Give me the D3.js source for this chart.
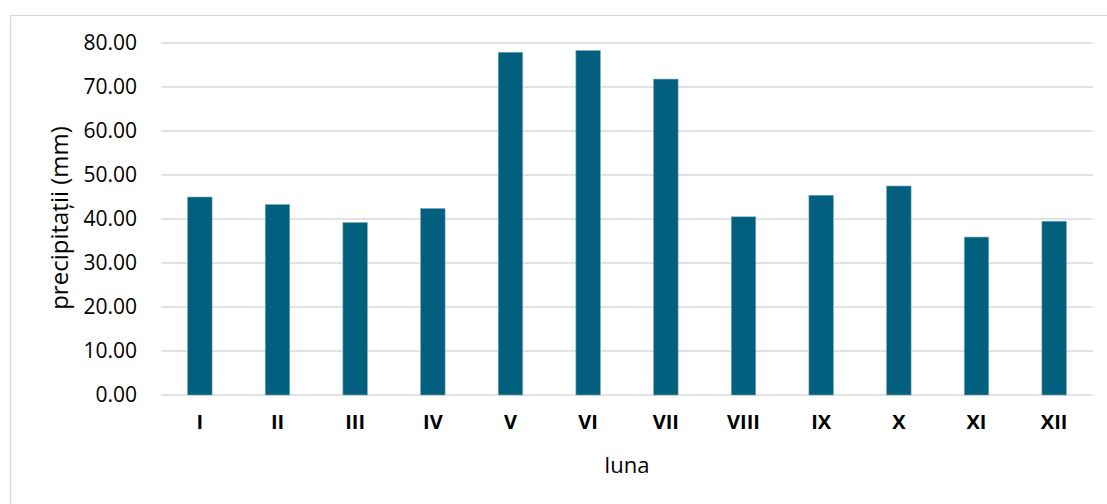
<!DOCTYPE html>
<html>
<head>
<meta charset="utf-8">
<script src="https://cdn.jsdelivr.net/npm/d3@7"></script>
<style>
  html, body { margin: 0; padding: 0; background: #fff; }
  svg { display: block; }
  .grid-line { stroke: #d9d9d9; stroke-width: 1.3; }
</style>
</head>
<body>
<svg id="chart"></svg>
<script>
// date: precipitații lunare (mm)
let months = ["I", "II", "III", "IV", "V", "VI", "VII", "VIII", "IX", "X", "XI", "XII"];
let precip = [45.0, 43.3, 39.2, 42.4, 77.9, 78.3, 71.8, 40.5, 45.4, 47.5, 35.9, 39.5];
let yTicks = [0, 10, 20, 30, 40, 50, 60, 70, 80];

function drawChart() {
    let width = 1107;
    let height = 504;
    let left = 161, right = 1093, top = 43, bottom = 395;
    let font = "'Open Sans', 'Noto Sans', sans-serif";

    let svg = d3.select("#chart")
        .attr("width", width)
        .attr("height", height);

    // chenarul graficului
    svg.append("rect")
        .attr("x", 10.5).attr("y", 15.5)
        .attr("width", width + 20).attr("height", height + 20)
        .attr("fill", "none")
        .attr("stroke", "#d9d9d9")
        .attr("stroke-width", 1.3);

    let scaleX = d3.scaleBand()
        .domain(months)
        .range([left, right])
        .paddingInner(0.684)
        .paddingOuter(0.342);
    let scaleY = d3.scaleLinear()
        .domain([0, 80])
        .range([bottom, top]);

    // linii de grilă orizontale
    svg.append("g")
        .selectAll("line")
        .data(yTicks)
        .enter()
        .append("line")
        .classed("grid-line", true)
        .attr("x1", left).attr("x2", right)
        .attr("y1", d => scaleY(d)).attr("y2", d => scaleY(d));

    // axa Y
    let axisY = d3.axisLeft(scaleY)
        .tickValues(yTicks)
        .tickSize(0)
        .tickPadding(24)
        .tickFormat(d3.format(".2f"));
    let gy = svg.append("g")
        .attr("transform", `translate(${left}, 0)`)
        .call(axisY);
    gy.select(".domain").remove();
    gy.selectAll("text")
        .style("font", `21px ${font}`)
        .attr("fill", "#000");

    // axa X
    let axisX = d3.axisBottom(scaleX).tickSize(0).tickPadding(20);
    let gx = svg.append("g")
        .attr("transform", `translate(0, ${bottom})`)
        .call(axisX);
    gx.select(".domain").remove();
    gx.selectAll("text")
        .style("font", `bold 20px ${font}`)
        .attr("fill", "#000");

    // coloane
    svg.append("g")
        .selectAll("rect")
        .data(precip)
        .enter()
        .append("rect")
        .attr("x", (d, i) => scaleX(months[i]))
        .attr("width", scaleX.bandwidth())
        .attr("y", d => scaleY(d))
        .attr("height", d => bottom - scaleY(d))
        .attr("fill", "#02607e")
        .attr("stroke", "#7fb0c0")
        .attr("stroke-width", 0.6);

    // titluri axe
    svg.append("text")
        .attr("x", (left + right) / 2)
        .attr("y", 473)
        .attr("text-anchor", "middle")
        .style("font", `22px ${font}`)
        .attr("fill", "#000")
        .text("luna");

    svg.append("text")
        .attr("transform", `translate(68, 218) rotate(-90)`)
        .attr("text-anchor", "middle")
        .style("font", `24px ${font}`)
        .attr("fill", "#000")
        .text("precipitații (mm)");
}

drawChart();
</script>
</body>
</html>
